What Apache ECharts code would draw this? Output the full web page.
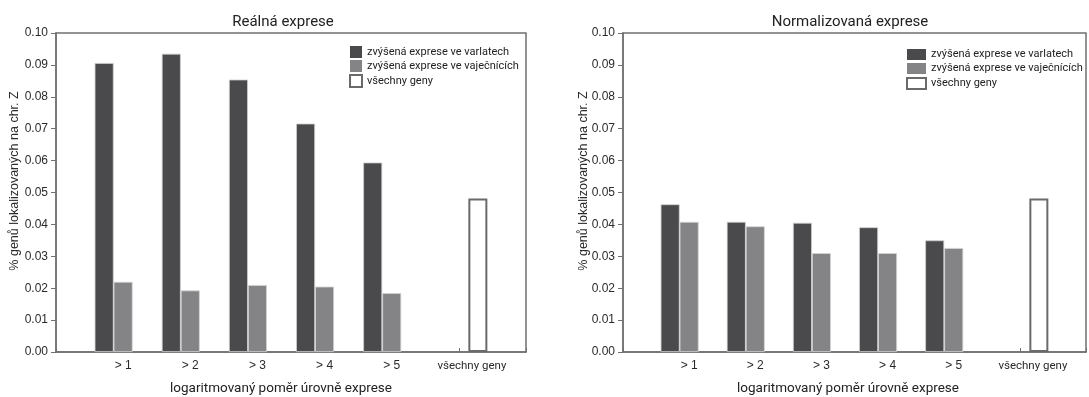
<!DOCTYPE html>
<html>
<head>
<meta charset="utf-8">
<script src="https://cdn.jsdelivr.net/npm/echarts@6/dist/echarts.min.js"></script>
<style>
html,body{margin:0;padding:0;background:#fff;}
#c{width:1089px;height:397px;}
</style>
</head>
<body>
<div id="c"></div>
<script>
const categories = ['', '> 1', '> 2', '> 3', '> 4', '> 5', 'všechny geny', ''];
const seriesNames = ['zvýšená exprese ve varlatech', 'zvýšená exprese ve vaječnících', 'všechny geny'];
const realTestis = [null, 0.0906, 0.0935, 0.0854, 0.0716, 0.0594, null, null];
const realOvary  = [null, 0.0220, 0.0193, 0.0210, 0.0205, 0.0185, null, null];
const realAll    = [null, null, null, null, null, null, 0.0481, null];
const normTestis = [null, 0.0463, 0.0408, 0.0405, 0.0391, 0.0350, null, null];
const normOvary  = [null, 0.0408, 0.0394, 0.0310, 0.0310, 0.0326, null, null];
const normAll    = [null, null, null, null, null, null, 0.0481, null];
const titles = ['Reálná exprese', 'Normalizovaná exprese'];
const xName = 'logaritmovaný poměr úrovně exprese';
const yName = '% genů lokalizovaných na chr. Z';

const MYRIAD = 'Roboto, Lato, sans-serif';
const ARIAL = '"Liberation Sans", Arial, sans-serif';
const AXIS = '#707070';
const DARK = '#4a4a4c';
const GRAY = '#848486';

const grids = [
  {left: 56, top: 33, width: 470, height: 319},
  {left: 623, top: 33, width: 470, height: 319}
];

function xAxis(i) {
  return {
    type: 'category', gridIndex: i, data: categories, boundaryGap: false,
    axisLine: {lineStyle: {color: AXIS, width: 1.5}},
    axisTick: {inside: true, length: 4, interval: 0, lineStyle: {color: AXIS}},
    axisLabel: {
      interval: 0, margin: 8, color: '#2a2a2a', fontFamily: ARIAL, fontSize: 12,
      formatter: v => v === 'všechny geny' ? '{g|' + v + '}' : v,
      rich: {g: {fontFamily: MYRIAD, fontSize: 11.5, color: '#2a2a2a', padding: [0, 0, 0, 26]}}
    },
    splitLine: {show: false}
  };
}
function yAxis(i) {
  return {
    type: 'value', gridIndex: i, min: 0, max: 0.1, interval: 0.01,
    axisLine: {show: true, lineStyle: {color: AXIS, width: 1.5}},
    axisTick: {show: true, length: 5, lineStyle: {color: AXIS}},
    axisLabel: {margin: 8, color: '#2a2a2a', fontFamily: ARIAL, fontSize: 12, formatter: v => v.toFixed(2)},
    splitLine: {show: false}
  };
}
function bars(i, data) {
  const styles = [
    {color: DARK, borderColor: '#cfcfcf', borderWidth: 0.8},
    {color: GRAY, borderColor: '#d6d6d6', borderWidth: 0.8},
    {color: '#ffffff', borderColor: '#6a6a6a', borderWidth: 2}
  ];
  return data.map((d, k) => ({
    name: seriesNames[k], type: 'bar', xAxisIndex: i, yAxisIndex: i,
    data: d, barWidth: 19, barGap: '0%', itemStyle: styles[k], silent: true
  }));
}
function legend(i) {
  const pos = i === 0 ? {left: 349, top: 46, itemWidth: 12, itemHeight: 12, itemGap: 2}
                      : {left: 906, top: 49, itemWidth: 19, itemHeight: 11, itemGap: 3};
  return Object.assign({
    orient: 'vertical', icon: 'rect', selectedMode: false, padding: 0,
    data: [
      {name: seriesNames[0], itemStyle: {color: DARK, borderWidth: 0}},
      {name: seriesNames[1], itemStyle: {color: GRAY, borderWidth: 0}},
      {name: seriesNames[2], itemStyle: {color: '#fff', borderColor: '#6a6a6a', borderWidth: 2}}
    ],
    textStyle: {fontFamily: MYRIAD, fontSize: 11, color: '#222'}
  }, pos);
}

const chart = echarts.init(document.getElementById('c'), null, {renderer: 'canvas'});
chart.setOption({
  animation: false,
  backgroundColor: '#fff',
  title: [
    {text: titles[0], left: 278, top: 10, textAlign: 'center', textStyle: {fontFamily: MYRIAD, fontSize: 15, fontWeight: 'normal', color: '#222'}},
    {text: titles[1], left: 845, top: 10, textAlign: 'center', textStyle: {fontFamily: MYRIAD, fontSize: 15, fontWeight: 'normal', color: '#222'}},
    {text: xName, left: 276, top: 377, textAlign: 'center', textStyle: {fontFamily: MYRIAD, fontSize: 13.5, fontWeight: 'normal', color: '#222'}},
    {text: xName, left: 843, top: 377, textAlign: 'center', textStyle: {fontFamily: MYRIAD, fontSize: 13.5, fontWeight: 'normal', color: '#222'}}
  ],
  graphic: [
    {type: 'text', x: 15, y: 181, rotation: Math.PI / 2, style: {text: yName, align: 'center', verticalAlign: 'middle', fontFamily: ARIAL, fontSize: 12.5, fill: '#2a2a2a'}},
    {type: 'text', x: 584, y: 181, rotation: Math.PI / 2, style: {text: yName, align: 'center', verticalAlign: 'middle', fontFamily: ARIAL, fontSize: 12.5, fill: '#2a2a2a'}}
  ],
  grid: grids.map(g => Object.assign({show: true, borderColor: AXIS, borderWidth: 1.5, backgroundColor: 'transparent'}, g)),
  legend: [legend(0), legend(1)],
  xAxis: [xAxis(0), xAxis(1)],
  yAxis: [yAxis(0), yAxis(1)],
  series: [].concat(
    bars(0, [realTestis, realOvary, realAll]),
    bars(1, [normTestis, normOvary, normAll])
  )
});
</script>
</body>
</html>
